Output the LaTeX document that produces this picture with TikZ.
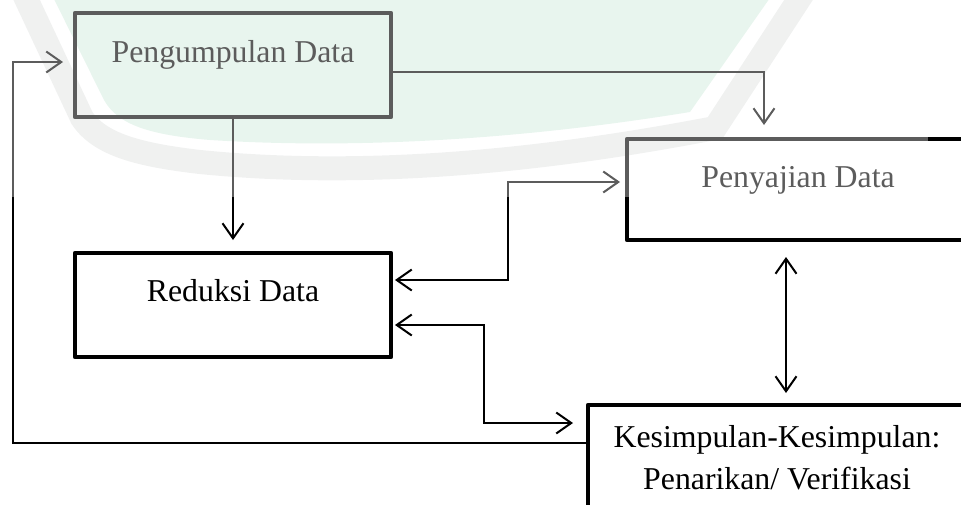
\documentclass[tikz,border=0pt]{standalone}
\usepackage{fontspec}
\setmainfont{Liberation Serif}
\usetikzlibrary{arrows.meta,calc}
\definecolor{wmgreen}{RGB}{220,240,229}
\definecolor{wmgray}{RGB}{232,234,233}
\begin{document}
\begin{tikzpicture}[x=1pt,y=-1pt,
  box/.style={draw=black,line width=4.5pt,line join=round,outer sep=0pt,inner sep=0pt,anchor=north west},
  txt/.style={font=\fontsize{31.8}{42}\selectfont,inner sep=0pt,anchor=base},
  tip/.tip={Straight Barb[length=15pt,width=21pt]},
  conn/.style={line width=2pt,line join=miter,-tip},
  conn2/.style={line width=2pt,line join=miter,tip-tip}]
\useasboundingbox (0,0) rectangle (961,504);
\clip (0,0) rectangle (961,504);
% watermark (background)
\draw[wmgray,line width=24pt] (22,-10) -- (82,118) .. controls (100,145) and (140,155) .. (200,162) .. controls (400,182) and (600,150) .. (715,128) -- (805,-10);
\fill[wmgreen] (52,-5) -- (104,100) .. controls (118,125) and (150,135) .. (210,140) .. controls (400,152) and (580,130) .. (690,112) -- (772,-5) -- cycle;
% boxes
\node[box,minimum width=316pt,minimum height=104pt] (pd) at (75,13) {};
\node[box,minimum width=316pt,minimum height=104pt] (rd) at (75,253) {};
\node[box,minimum width=342pt,minimum height=101pt] (ps) at (627,139) {};
\node[box,minimum width=378pt,minimum height=200pt] (ks) at (588,405) {};
% texts
\node[txt] (pdt) at (233,62) {Pengumpulan Data};
\node[txt] (rdt) at (233,301) {Reduksi Data};
\node[txt] (pst) at (798,187) {Penyajian Data};
\node[txt] (kst1) at (777,447) {Kesimpulan-Kesimpulan:};
\node[txt] (kst2) at (777,489) {Penarikan/ Verifikasi};
% connectors
\coordinate (fb) at (13,62);
\draw[conn,shorten >=13pt] (pd.south) -- (rd.north);
\draw[conn,shorten >=14pt] ($(pd.north east)+(0,59)$) -| ($(ps.north west)+(137,0)$);
\draw[conn,shorten >=12pt] ($(ks.north west)+(0,38)$) -| (fb) -- ($(pd.north west)+(0,49)$);
\draw[conn2,shorten <=4pt,shorten >=7pt] ($(rd.north east)+(0,27)$) -| ($(ps.north west)+(-119,43)$) -- ($(ps.north west)+(0,43)$);
\draw[conn2,shorten <=4pt,shorten >=15pt] ($(rd.north east)+(0,72)$) -| ($(ks.north west)+(-104,18)$) -- ($(ks.north west)+(0,18)$);
\draw[conn2,shorten <=17pt,shorten >=12pt] ($(ps.south west)+(159,0)$) -- ($(ks.north west)+(198,0)$);
% watermark overlay
\fill[white,opacity=0.36] (0,0) rectangle (928,197);
\end{tikzpicture}
\end{document}
